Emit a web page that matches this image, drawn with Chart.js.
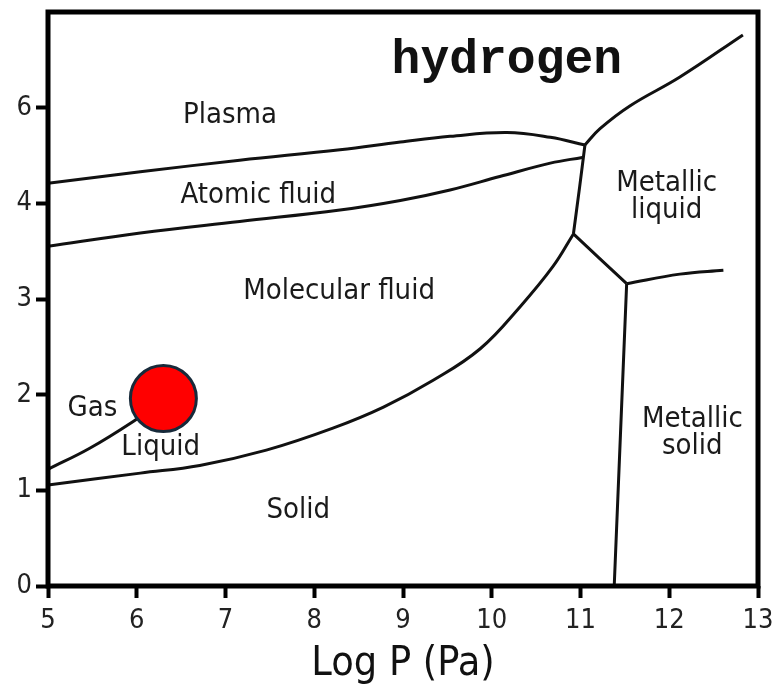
<!DOCTYPE html>
<html>
<head>
<meta charset="utf-8">
<script src="https://cdn.jsdelivr.net/npm/chart.js@4"></script>
<style>
  html, body { margin: 0; padding: 0; background: #fff; }
  #wrap { width: 774px; height: 691px; }
</style>
</head>
<body>
<div id="wrap"><canvas id="myChart"></canvas></div>
<script>
// axes (the vertical axis is printed 0,1,2,3,4,6 in the original)
const xTicks = [5, 6, 7, 8, 9, 10, 11, 12, 13];
const yTicks = [0, 1, 2, 3, 4, 5];
const yTickLabels = ['0', '1', '2', '3', '4', '6'];

// phase boundaries (x = log P, y = vertical axis value)
const plasmaAtomicX = [5.0, 6.04, 7.16, 8.29, 8.97, 9.53, 10.17, 10.66, 11.05];
const plasmaAtomicY = [4.21, 4.33, 4.45, 4.56, 4.64, 4.70, 4.74, 4.69, 4.61];

const atomicMolecularX = [5.0, 6.04, 7.16, 8.29, 8.97, 9.53, 10.09, 10.66, 11.02];
const atomicMolecularY = [3.55, 3.69, 3.81, 3.93, 4.03, 4.14, 4.28, 4.42, 4.48];

const plasmaMetalX = [11.05, 11.22, 11.56, 12.12, 12.83];
const plasmaMetalY = [4.61, 4.78, 5.02, 5.32, 5.76];

const fluidMetalX = [11.05, 10.99, 10.92];
const fluidMetalY = [4.61, 4.17, 3.68];

const moleculeSolidX = [10.92, 10.69, 10.32, 9.87, 9.34, 8.78, 8.21, 7.46, 6.71, 6.04, 5.0];
const moleculeSolidY = [3.68, 3.34, 2.92, 2.48, 2.15, 1.87, 1.65, 1.42, 1.26, 1.18, 1.055];

const gasLiquidX = [5.0, 5.47, 5.96, 6.26];
const gasLiquidY = [1.22, 1.44, 1.72, 1.92];

const solidMetalLiquidX = [10.92, 11.52];
const solidMetalLiquidY = [3.68, 3.16];

const metalLiquidSolidX = [11.52, 12.12, 12.61];
const metalLiquidSolidY = [3.16, 3.26, 3.30];

const solidMetalSolidX = [11.52, 11.38];
const solidMetalSolidY = [3.16, 0.0];

// marker
const markerX = [6.30];
const markerY = [1.96];

// region names and where they sit
const regionNames = ['Plasma', 'Atomic fluid', 'Molecular fluid', 'Gas', 'Liquid', 'Solid', ['Metallic', 'liquid'], ['Metallic', 'solid']];
const regionX = [7.05, 7.37, 8.28, 5.50, 6.27, 7.82, 11.97, 12.26];
const regionY = [4.92, 4.08, 3.08, 1.86, 1.45, 0.79, 4.07, 1.60];

const FONT = "'DejaVu Sans Condensed', 'DejaVu Sans', sans-serif";

function toPoints(xs, ys) {
  return xs.map((x, i) => ({ x: x, y: ys[i] }));
}

function boundary(xs, ys) {
  return {
    data: toPoints(xs, ys),
    showLine: true,
    borderColor: '#111',
    borderWidth: 3,
    pointRadius: 0,
    tension: 0.4,
    fill: false,
  };
}

// labels inside the plot + frame
const phaseLabels = {
  id: 'phaseLabels',
  afterDatasetsDraw(chart) {
    const ctx = chart.ctx;
    const xs = chart.scales.x;
    const ys = chart.scales.y;
    ctx.save();
    ctx.fillStyle = '#1a1a1a';
    ctx.textAlign = 'center';
    ctx.textBaseline = 'middle';
    ctx.font = '29px ' + FONT;
    regionNames.forEach((name, i) => {
      const px = xs.getPixelForValue(regionX[i]);
      const py = ys.getPixelForValue(regionY[i]);
      const lines = Array.isArray(name) ? name : [name];
      lines.forEach((t, j) => {
        ctx.fillText(t, px, py + (j - (lines.length - 1) / 2) * 27);
      });
    });
    ctx.font = 'bold 48px "Liberation Mono", "Courier New", monospace';
    ctx.fillStyle = '#111';
    ctx.fillText('hydrogen', xs.getPixelForValue(10.17), ys.getPixelForValue(5.49));

    const a = chart.chartArea;
    ctx.lineWidth = 5;
    ctx.strokeStyle = '#000';
    ctx.strokeRect(a.left, a.top, a.right - a.left, a.bottom - a.top);
    ctx.restore();
  },
};

const data = {
  datasets: [
    {
      data: toPoints(markerX, markerY),
      pointRadius: 33,
      pointBackgroundColor: '#ff0000',
      pointBorderColor: '#172a3a',
      pointBorderWidth: 3,
      showLine: false,
    },
    boundary(plasmaAtomicX, plasmaAtomicY),
    boundary(atomicMolecularX, atomicMolecularY),
    boundary(plasmaMetalX, plasmaMetalY),
    boundary(fluidMetalX, fluidMetalY),
    boundary(moleculeSolidX, moleculeSolidY),
    boundary(gasLiquidX, gasLiquidY),
    boundary(solidMetalLiquidX, solidMetalLiquidY),
    boundary(metalLiquidSolidX, metalLiquidSolidY),
    boundary(solidMetalSolidX, solidMetalSolidY),
  ],
};

const config = {
  type: 'scatter',
  data: data,
  options: {
    responsive: true,
    maintainAspectRatio: false,
    animation: false,
    events: [],
    layout: { autoPadding: false, padding: { top: 12, right: 16, left: 0, bottom: 0 } },
    scales: {
      x: {
        type: 'linear',
        min: 5,
        max: 13,
        afterBuildTicks: (scale) => { scale.ticks = xTicks.map(v => ({ value: v })); },
        afterFit: (scale) => {
          scale.height = 105;
          scale.paddingLeft = 0;
          scale.paddingRight = 0;
        },
        border: { display: false },
        grid: {
          drawOnChartArea: false,
          drawTicks: true,
          tickLength: 12,
          tickWidth: 4,
          tickColor: '#000',
        },
        ticks: {
          autoSkip: false,
          maxRotation: 0,
          padding: 7,
          color: '#222',
          font: { family: FONT, size: 27 },
        },
        title: {
          display: true,
          text: 'Log P (Pa)',
          color: '#111',
          font: { family: FONT, size: 41 },
          padding: { top: 0, bottom: 2 },
        },
      },
      y: {
        type: 'linear',
        min: 0,
        max: 6,
        afterBuildTicks: (scale) => { scale.ticks = yTicks.map(v => ({ value: v })); },
        afterFit: (scale) => {
          scale.width = 48;
          scale.paddingTop = 0;
          scale.paddingBottom = 0;
        },
        border: { display: false },
        grid: {
          drawOnChartArea: false,
          drawTicks: true,
          tickLength: 12,
          tickWidth: 4,
          tickColor: '#000',
        },
        ticks: {
          padding: 4,
          color: '#222',
          font: { family: FONT, size: 27 },
          callback: (value, index) => yTickLabels[index],
        },
      },
    },
    plugins: {
      legend: { display: false },
      tooltip: { enabled: false },
    },
  },
  plugins: [phaseLabels],
};

const myChart = new Chart(document.getElementById('myChart'), config);
</script>
</body>
</html>
